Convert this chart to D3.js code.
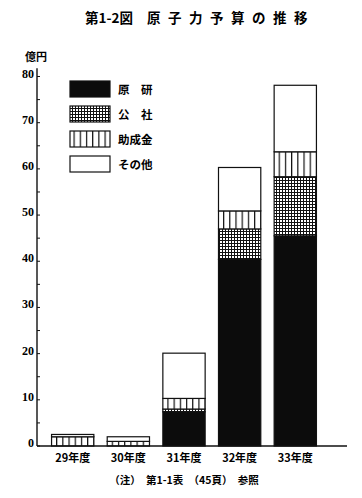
<!DOCTYPE html>
<html><head><meta charset="utf-8">
<script src="https://cdn.jsdelivr.net/npm/d3@7"></script>
<style>
html,body{margin:0;padding:0;background:#fff;}
svg{display:block;}
</style></head>
<body>
<script>
// ---- data ----
const years = ["29年度", "30年度", "31年度", "32年度", "33年度"];
const genken = [0, 0, 7.4, 40.4, 45.5];     // 原研
const kosha  = [0, 0, 0.6, 6.6, 12.8];      // 公社
const josei  = [2.0, 1.0, 2.3, 3.9, 5.4];   // 助成金
const sonota = [0.5, 1.0, 9.8, 9.4, 14.4];  // その他
const seriesNames = ["原　研", "公　社", "助成金", "その他"];
const yTicks = [0, 10, 20, 30, 40, 50, 60, 70, 80];
const titleNo = "第1-2図";
const titleText = "原子力予算の推移";
const unitLabel = "億円";
const note = "（注）　第1-1表　（45頁）　参照";

const W = 362, H = 498;
const jp = "'Noto Sans CJK JP', sans-serif";
const num = "'Liberation Serif', 'DejaVu Serif', serif";

const svg = d3.select("body").append("svg").attr("width", W).attr("height", H);
svg.append("rect").attr("width", W).attr("height", H).attr("fill", "#fff");

const defs = svg.append("defs");
const grid = defs.append("pattern").attr("id", "grid").attr("patternUnits", "userSpaceOnUse")
  .attr("width", 3).attr("height", 3);
grid.append("rect").attr("width", 3).attr("height", 3).attr("fill", "#fff");
grid.append("rect").attr("x", 0).attr("y", 0).attr("width", 3).attr("height", 1).attr("fill", "#111");
grid.append("rect").attr("x", 0).attr("y", 0).attr("width", 1).attr("height", 3).attr("fill", "#111");

function stripePattern(id, x0) {
  const p = defs.append("pattern").attr("id", id).attr("patternUnits", "userSpaceOnUse")
    .attr("width", 6.2).attr("height", 10).attr("x", x0);
  p.append("rect").attr("width", 6.2).attr("height", 10).attr("fill", "#fff");
  p.append("rect").attr("x", 0).attr("y", 0).attr("width", 1.2).attr("height", 10).attr("fill", "#111");
}

const fills = ["#0c0c0c", "url(#grid)", null, "#fff"];

const x = d3.scaleBand().domain(years).range([46, 322]).paddingInner(0.24).paddingOuter(0.1);
const y = d3.scaleLinear().domain([0, 80]).range([446, 76.5]);

// title
svg.append("text").attr("x", 85).attr("y", 23)
  .attr("font-family", jp).attr("font-weight", "bold").attr("font-size", 13.5).text(titleNo);
svg.append("text").attr("x", 147).attr("y", 23).attr("letter-spacing", 7.5)
  .attr("font-family", jp).attr("font-weight", "bold").attr("font-size", 13.5).text(titleText);

// unit label
svg.append("text").attr("x", 36).attr("y", 61).attr("text-anchor", "middle")
  .attr("font-family", jp).attr("font-weight", "bold").attr("font-size", 11).text(unitLabel);

// y axis
const ax = 37;
svg.append("line").attr("x1", ax).attr("x2", ax).attr("y1", y(81.8)).attr("y2", y(0))
  .attr("stroke", "#111").attr("stroke-width", 1.4);
const minor = d3.range(5, 80, 10);
svg.selectAll(".mt").data(yTicks.concat(minor)).join("line")
  .attr("x1", ax).attr("x2", ax + 3).attr("y1", d => y(d)).attr("y2", d => y(d))
  .attr("stroke", "#111").attr("stroke-width", 1);
svg.selectAll(".yl").data(yTicks).join("text")
  .attr("x", ax - 3).attr("y", d => y(d) + 1).attr("text-anchor", "end")
  .attr("font-family", num).attr("font-weight", "bold").attr("font-size", 12)
  .text(d => d);

// bars
const stack = years.map((yr, i) => {
  const vals = [genken[i], kosha[i], josei[i], sonota[i]];
  let acc = 0;
  return vals.map((v, k) => { const s = acc; acc += v; return {yr, k, y0: s, y1: acc}; });
});
years.forEach((yr, i) => stripePattern("stripe" + i, x(yr) + 4.5));

const g = svg.append("g");
stack.forEach((segs, i) => {
  segs.forEach(s => {
    if (s.y1 - s.y0 <= 0) return;
    g.append("rect")
      .attr("x", x(s.yr)).attr("width", x.bandwidth())
      .attr("y", y(s.y1)).attr("height", y(s.y0) - y(s.y1))
      .attr("fill", s.k === 2 ? `url(#stripe${i})` : fills[s.k])
      .attr("stroke", "#111").attr("stroke-width", 1.2);
  });
});

// baseline
svg.append("line").attr("x1", ax).attr("x2", 347).attr("y1", y(0)).attr("y2", y(0))
  .attr("stroke", "#111").attr("stroke-width", 1.4);

// x labels
svg.selectAll(".xl").data(years).join("text")
  .attr("x", d => x(d) + x.bandwidth() / 2).attr("y", 462).attr("text-anchor", "middle")
  .attr("font-family", jp).attr("font-weight", "bold").attr("font-size", 11).text(d => d);

// legend
stripePattern("stripeL", 70 + 3.5);
const legFills = ["#0c0c0c", "url(#grid)", "url(#stripeL)", "#fff"];
const legY = [81, 106, 131, 156];
seriesNames.forEach((n, k) => {
  svg.append("rect").attr("x", 70).attr("y", legY[k]).attr("width", 40).attr("height", 16)
    .attr("fill", legFills[k]).attr("stroke", "#111").attr("stroke-width", 1.2);
  svg.append("text").attr("x", 118).attr("y", legY[k] + 12.5)
    .attr("font-family", jp).attr("font-weight", "bold").attr("font-size", 11.5).text(n);
});

// note
svg.append("text").attr("x", 184).attr("y", 484).attr("text-anchor", "middle")
  .attr("font-family", jp).attr("font-weight", "bold").attr("font-size", 10.5).text(note);
</script>
</body></html>
